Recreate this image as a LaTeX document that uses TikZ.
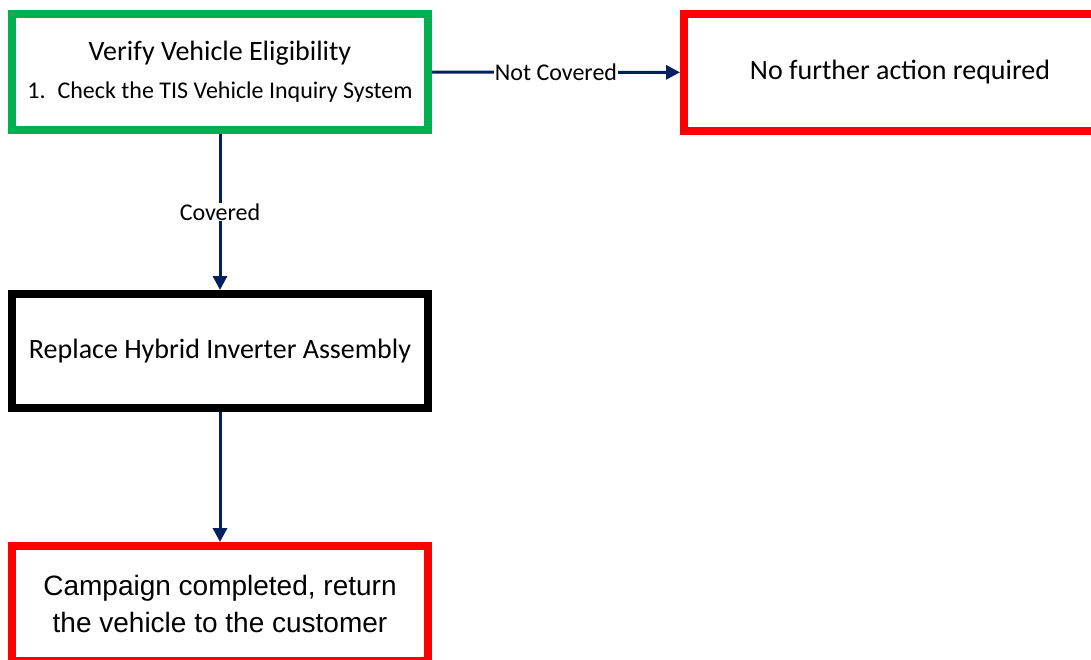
\documentclass[tikz,border=0pt]{standalone}
\usepackage{fontspec}
\setmainfont{Carlito}
\newfontfamily\arialfont{Liberation Sans}
\usetikzlibrary{arrows.meta, positioning}
\definecolor{stepgreen}{RGB}{0, 176, 80}
\definecolor{stepred}{RGB}{255, 0, 0}
\definecolor{linknavy}{RGB}{0, 32, 96}

\begin{document}
\begin{tikzpicture}[x=1pt, y=-1pt,
    stepbox/.style={draw, line width=8pt, fill=white, minimum width=416pt, minimum height=116pt, align=center, inner sep=0pt, font=\fontsize{28}{32}\selectfont},
    link/.style={linknavy, line width=3pt, -{Triangle[length=14pt, width=14pt]}},
    linklabel/.style={fill=white, text=black, inner sep=1pt, font=\fontsize{24}{28}\selectfont}]
        \clip (0,0) rectangle (1091,660);

        % eligibility check
        \node[stepbox, draw=stepgreen] (verify) at (220,72)
            {Verify Vehicle Eligibility\\[6pt]
             {\fontsize{24}{28}\selectfont 1.\enspace Check the TIS Vehicle Inquiry System}};
        \node[stepbox, draw=stepred, minimum width=432pt, minimum height=117pt] (nocover) at (900,72.5) {No further action required};

        % repair and close
        \node[stepbox, minimum height=114pt] (replace) at (220,351) {Replace Hybrid Inverter Assembly};
        \node[stepbox, draw=stepred, minimum height=115pt, font=\arialfont\fontsize{28}{37}\selectfont] (done) at (220,603.5)
            {Campaign completed, return\\the vehicle to the customer};

        % connectors
        \draw[link] (verify) -- node[linklabel] {Not Covered} (nocover);
        \draw[link] (verify) -- node[linklabel] {Covered} (replace);
        \draw[link] (replace) -- (done);
    \end{tikzpicture}
\end{document}
